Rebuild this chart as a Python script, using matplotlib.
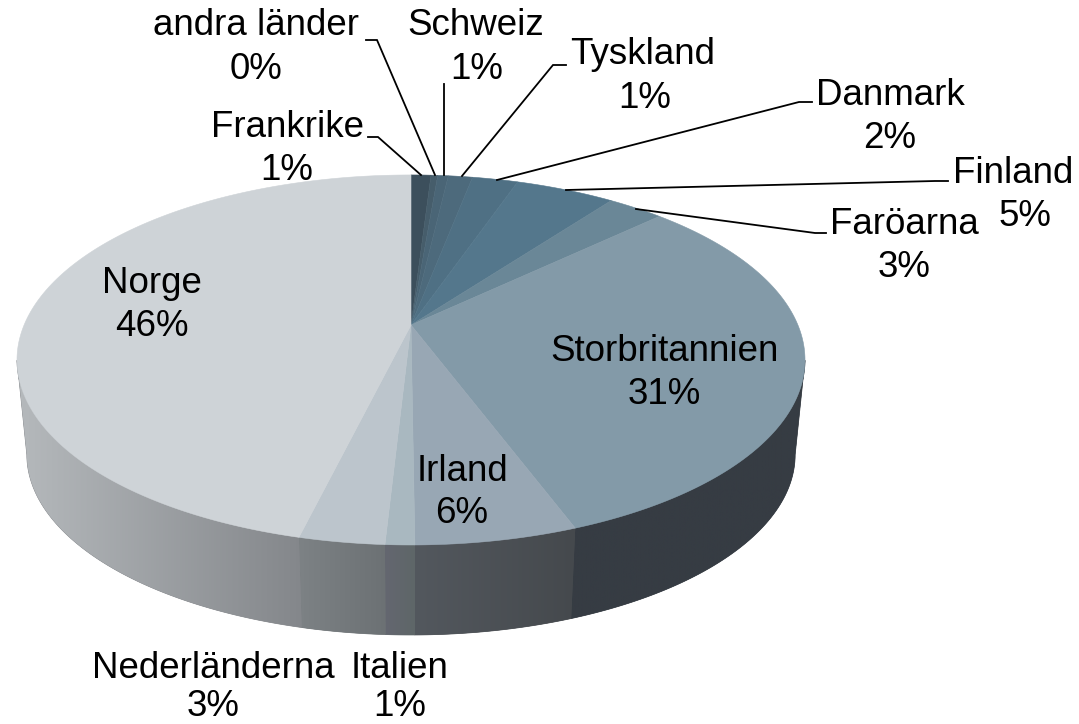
import matplotlib
matplotlib.use("Agg")
import matplotlib.pyplot as plt
from matplotlib.colors import LinearSegmentedColormap
from matplotlib.patches import Polygon
import numpy as np

# clockwise from twelve o'clock
countries = ["Frankrike", "andra länder", "Schweiz", "Tyskland", "Danmark", "Finland",
             "Faröarna", "Storbritannien", "Irland", "Italien", "Nederländerna", "Norge"]
shares = [0.98, 0.33, 0.52, 1.19, 2.25, 4.89, 2.76, 31.4, 5.55, 1.0, 2.93, 46.2]

top_colors = ["#3c4f5c", "#465d6b", "#4a6576", "#4d6a7c", "#4f7084", "#54778c",
              "#6a8797", "#839aa8", "#98a7b4", "#a9b8c0", "#bcc5cc", "#ced3d7"]
side_left = ["#2f3a44", "#2f3a44", "#2f3a44", "#2f3a44", "#2f3a44", "#2f3a44",
             "#2f3a44", "#363c43", "#53585e", "#646770", "#7d8285", "#b5b9bc"]
side_right = ["#2f3a44", "#2f3a44", "#2f3a44", "#2f3a44", "#2f3a44", "#2f3a44",
              "#2f3a44", "#363c43", "#45494d", "#5e6668", "#6c7174", "#84878b"]

# name x, name baseline, percent x, percent baseline
label_pos = [(287, 137, 287, 180), (256, 35, 256, 79), (476, 35, 477, 79), (643, 64, 645, 108),
             (890, 105, 890, 148), (1013, 183, 1025, 226), (904, 234, 904, 277),
             (664, 361, 664, 404), (462, 481, 462, 523), (400, 678, 400, 716),
             (213, 678, 213, 716), (152, 293, 152, 336)]

leaders = [[(368, 137), (378, 137), (421, 175)],
           [(366, 40), (377, 40), (435, 175)],
           [(444, 84), (444, 175)],
           [(566, 65), (553, 65), (462, 176)],
           [(812, 102), (799, 102), (497, 180)],
           [(948, 181), (935, 181), (566, 190)],
           [(826, 233), (815, 233), (636, 209)]]

plt.rcParams["font.family"] = ["Liberation Sans", "DejaVu Sans"]


def rim(frac, scale, x0, y0):
    # perspective view of the pie circle
    t = 2 * np.pi * np.asarray(frac)
    u = np.sin(t)
    v = -np.cos(t)
    d = 1 - 0.189 * v
    return x0 + scale * 386.9 * u / d, y0 + scale * 178.4 * v / d


fig = plt.figure(figsize=(10.79, 7.24), dpi=100)
ax = fig.add_axes([0, 0, 1, 1])
ax.axis("off")

edges = np.concatenate([[0], np.cumsum(shares)]) / np.sum(shares)
front_a, front_b = 0.2805, 0.7195  # part of the wall facing the viewer

# side wall, shaded across each slice
for i in range(len(shares)):
    a, b = max(edges[i], front_a), min(edges[i + 1], front_b)
    if a >= b:
        continue
    f = np.linspace(a, b, 200)
    xt, yt = rim(f, 1, 411, 325)
    xb, yb = rim(f, 0.975, 411, 420.5)
    px, py = np.r_[xt, xb[::-1]], np.r_[yt, yb[::-1]]
    # solid underlay hides seams between neighbouring slices
    ax.fill(px, py, color=side_right[i], lw=0.5, zorder=1)
    poly = Polygon(np.c_[px, py], closed=True, transform=ax.transData, fc="none", ec="none")
    ax.add_patch(poly)
    cmap = LinearSegmentedColormap.from_list("s", [side_left[i], side_right[i]])
    im = ax.imshow(np.linspace(0, 1, 256).reshape(1, -1), cmap=cmap, aspect="auto",
                   extent=(px.min(), px.max(), py.max(), py.min()), zorder=2)
    im.set_clip_path(poly)
ax.set_xlim(0, 1079)
ax.set_ylim(724, 0)

# top face
for i in range(len(shares)):
    f = np.linspace(edges[i], edges[i + 1], max(int(shares[i] * 6), 3))
    x, y = rim(f, 1, 411, 325)
    ax.fill(np.r_[411, x], np.r_[325, y], color=top_colors[i], lw=0.4, zorder=5)

for pts in leaders:
    ax.plot([p[0] for p in pts], [p[1] for p in pts], color="black", lw=1.3, zorder=6,
            solid_joinstyle="miter")

for name, val, pos in zip(countries, shares, label_pos):
    ax.text(pos[0], pos[1], name, ha="center", va="baseline", fontsize=26.5, color="black", zorder=7)
    ax.text(pos[2], pos[3], f"{round(val)}%", ha="center", va="baseline", fontsize=26.5, color="black", zorder=7)

fig.savefig("out.png", dpi=100)
